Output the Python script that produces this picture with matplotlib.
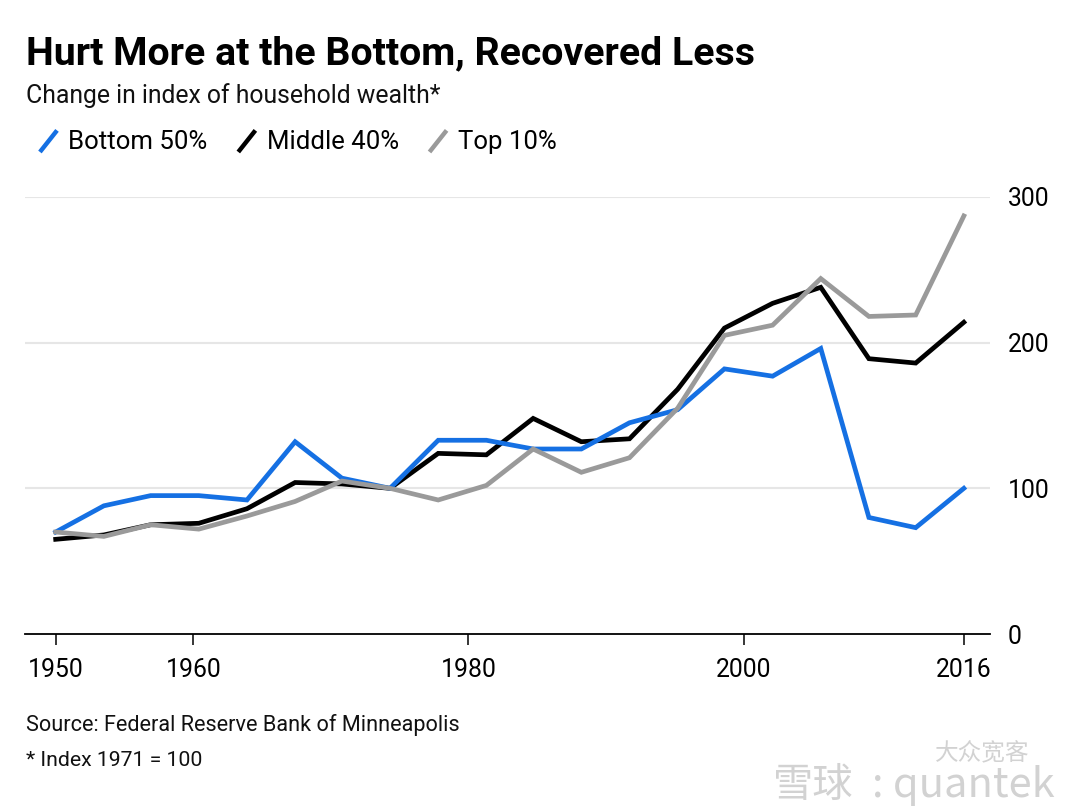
### Importing useful packages
import numpy as np
import matplotlib
matplotlib.use('Agg')
import matplotlib.pyplot as plt
from matplotlib.lines import Line2D
from matplotlib.legend_handler import HandlerBase


### Data (index, 1971 = 100)
## Survey points sit evenly spaced along the time axis
years = [1950.0, 1953.5, 1956.9, 1960.4, 1963.9, 1967.4, 1970.8, 1974.3, 1977.8, 1981.3,
         1984.7, 1988.2, 1991.7, 1995.2, 1998.6, 2002.1, 2005.6, 2009.1, 2012.5, 2016.0]

bottom50 = [70, 88, 95, 95, 92, 132, 107, 100, 133, 133,
            127, 127, 145, 154, 182, 177, 196, 80, 73, 100]
middle40 = [65, 68, 75, 76, 86, 104, 103, 100, 124, 123,
            148, 132, 134, 168, 210, 227, 238, 189, 186, 214]
top10 = [70, 67, 75, 72, 81, 91, 105, 100, 92, 102,
         127, 111, 121, 155, 205, 212, 244, 218, 219, 287]

x_ticks = [1950, 1960, 1980, 2000, 2016]
y_ticks = [0, 100, 200, 300]

series_names = ['Bottom 50%', 'Middle 40%', 'Top 10%']

## Colours
BLUE = '#1570e3'
BLACK = '#000000'
GRAY = '#9a9a9a'


### Legend handle drawn as a short slash
class SlashHandler(HandlerBase):
    def create_artists(self, legend, orig_handle, xdescent, ydescent,
                       width, height, fontsize, trans):
        x0 = -xdescent
        y0 = -ydescent
        ln = Line2D([x0 + 0.15 * width, x0 + 0.85 * width],
                    [y0 - 0.15 * height, y0 + 1.05 * height],
                    color=orig_handle.get_color(), lw=3.2,
                    solid_capstyle='butt', transform=trans)
        return [ln]


plt.rcParams['font.family'] = ['Roboto', 'DejaVu Sans']

fig = plt.figure(figsize=(10.8, 8.07), dpi=100)

## Plot area in pixels: x 25..990, y 197 (300) .. 634 (0)
W, H = 1080.0, 807.0
ax = fig.add_axes([25 / W, 1 - 634 / H, (990 - 25) / W, (634 - 197) / H])

## Gridlines
for v in y_ticks[1:]:
    ax.axhline(v, color='#e6e6e6', lw=1.5, zorder=0)

## Lines
l_mid, = ax.plot(years, middle40, color=BLACK, lw=3.4, zorder=3,
                 solid_joinstyle='miter', label=series_names[1])
l_bot, = ax.plot(years, bottom50, color=BLUE, lw=3.4, zorder=4,
                 solid_joinstyle='miter', label=series_names[0])
l_top, = ax.plot(years, top10, color=GRAY, lw=3.4, zorder=5,
                 solid_joinstyle='miter', label=series_names[2])

## Axis limits
ax.set_xlim(1947.77, 2017.9)
ax.set_ylim(0, 300)

## Spines
for s in ['top', 'left', 'right']:
    ax.spines[s].set_visible(False)
ax.spines['bottom'].set_linewidth(1.3)
ax.spines['bottom'].set_zorder(6)

## Ticks
ax.set_xticks(x_ticks)
ax.set_xticklabels([str(t) for t in x_ticks])
ax.tick_params(axis='x', length=8, width=1.1, pad=9, labelsize=17.8, color='black')
ax.yaxis.tick_right()
ax.set_yticks(y_ticks)
ax.set_yticklabels([str(t) for t in y_ticks])
ax.tick_params(axis='y', length=0, pad=13, labelsize=17.8)
for lab in ax.get_yticklabels():
    lab.set_horizontalalignment('left')

## Title and subtitle
fig.text(26 / W, 1 - 64 / H, 'Hurt More at the Bottom, Recovered Less',
         fontsize=28.3, fontweight='bold', va='baseline', ha='left')
fig.text(26 / W, 1 - 103 / H, 'Change in index of household wealth*',
         fontsize=17.8, va='baseline', ha='left', color='#111111')

## Legend
fig.legend([l_bot, l_mid, l_top], series_names,
           handler_map={Line2D: SlashHandler()},
           loc='upper left', bbox_to_anchor=(26 / W, 1 - 120 / H),
           ncol=3, frameon=False, fontsize=18.5, handlelength=0.95,
           handletextpad=0.3, columnspacing=1.05, borderaxespad=0)

## Footnotes
fig.text(26 / W, 1 - 731 / H, 'Source: Federal Reserve Bank of Minneapolis',
         fontsize=15.6, va='baseline', ha='left', color='#111111')
fig.text(26 / W, 1 - 766 / H, '* Index 1971 = 100',
         fontsize=15.3, va='baseline', ha='left', color='#111111')

## Watermark
wm_font = ['Noto Sans CJK SC', 'DejaVu Sans']
fig.text(773 / W, 1 - 797 / H, '雪球', fontsize=29, color='#d2d2d2',
         va='baseline', ha='left', family=wm_font)
fig.text(872 / W, 1 - 797 / H, ': quantek', fontsize=30, color='#d2d2d2',
         va='baseline', ha='left', family=wm_font, fontweight='light')
fig.text(935 / W, 1 - 760 / H, '大众宽客', fontsize=17, color='#d2d2d2',
         va='baseline', ha='left', family=wm_font)

## Save
fig.savefig('out.png', dpi=100)
